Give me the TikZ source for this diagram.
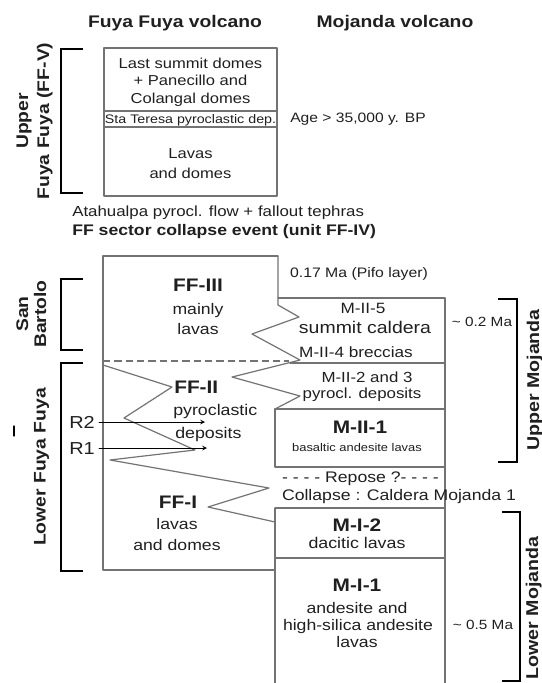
\documentclass[tikz,border=0pt]{standalone}
\usepackage{fontspec}
\setmainfont{Liberation Sans}[FakeStretch=1.15]
\definecolor{txt}{gray}{0.12}
\definecolor{boxgray}{gray}{0.45}
\tikzset{
  fs/.code={\pgfmathsetmacro\tmpth{0.72*#1}\tikzset{font=\fontsize{#1}{#1}\selectfont,text height=\tmpth pt}},
  fsb/.code={\pgfmathsetmacro\tmpth{0.72*#1}\tikzset{font=\fontsize{#1}{#1}\selectfont\bfseries,text height=\tmpth pt}},
  box/.style={draw=boxgray,line width=0.9pt},
  brack/.style={draw=black,line width=2.2pt,line cap=butt,line join=miter},
}
\begin{document}
\begin{tikzpicture}[x=0.75pt,y=-0.75pt,>=stealth,line join=round,line cap=round,
    every node/.style={inner sep=0pt,text depth=0pt,text=txt}]
  \def\xl{103} \def\xm{275} \def\xr{445}
  \useasboundingbox (0,0) rectangle (542,683);
  \node[fsb=12.6] (tFF) at (175,21) {Fuya Fuya volcano};
  \node[fsb=12.6] (tMo) at (395,21) {Mojanda volcano};
  % upper Fuya Fuya
  \draw[box] (104,48) rectangle (277,196);
  \draw[box] (104,111)--(277,111) (104,127)--(277,127);
  \node[fs=10.8] (ls1) at (190.5,63) {Last summit domes};
  \node[fs=10.8] (ls2) at (190.5,80) {+ Panecillo and};
  \node[fs=10.8] (ls3) at (190.5,98) {Colangal domes};
  \node[fs=9.3] (sta) at (190.5,119) {Sta Teresa pyroclastic dep.};
  \node[fs=10.8] (lv1) at (190.5,153) {Lavas};
  \node[fs=10.8] (lv2) at (190.5,173) {and domes};
  \node[fs=10.2] (age) at (358,118) {Age > 35,000 y. BP};
  \draw[brack] (83,49)--(61,49)--(61,193)--(83,193);
  \node[fsb=12.6,rotate=90] (up1) at (22,121) {Upper};
  \node[fsb=12.6,rotate=90] (up2) at (43,121) {Fuya Fuya (FF-V)};
  \node[fs=11,anchor=west] (ata) at (72,211) {Atahualpa pyrocl. flow + fallout tephras};
  \node[fsb=11.5,anchor=west] (col) at (72,230) {FF sector collapse event (unit FF-IV)};
  % lower Fuya Fuya
  \draw[box] (278,256)--(\xl,256)--(\xl,570)--(\xm,570);
  \draw[box] (278,256)--(278,305)--(299,317)--(252,334)--(300,360)--(232,377)--(300,396)--(\xm,409);
  \draw[box,dashed,dash pattern=on 5.5pt off 3pt,line cap=butt] (\xl,361)--(289,361);
  \draw[box] (\xl,365)--(172,387)--(124,418)--(195,450)--(110,460)--(269,488)--(208,507)--(\xm,522);
  \node[fsb=13.6] (ff3) at (198,285) {FF-III};
  \node[fs=11.5] (ff3a) at (198,309) {mainly};
  \node[fs=11.5] (ff3b) at (198,329) {lavas};
  \node[fsb=13.6,anchor=west] (ff2) at (174,387) {FF-II};
  \node[fs=11.6,anchor=west] (ff2a) at (173,410) {pyroclastic};
  \node[fs=11.6,anchor=west] (ff2b) at (175,433) {deposits};
  \node[fsb=13.6] (ff1) at (178,502) {FF-I};
  \node[fs=11.5] (ff1a) at (177,524) {lavas};
  \node[fs=11.5] (ff1b) at (177,545) {and domes};
  \node[fs=13] (R2) at (82,422) {R2};
  \node[fs=13] (R1) at (82,448) {R1};
  \coordinate (r2e) at (205,422);
  \coordinate (r1e) at (207,448);
  \draw[->,line width=0.6pt,shorten <=3pt] (R2.east)--(r2e);
  \draw[->,line width=0.6pt,shorten <=3pt] (R1.east)--(r1e);
  \draw[brack] (83,279)--(61,279)--(61,350)--(83,350);
  \node[fsb=12.6,rotate=90] (sb1) at (22,314) {San};
  \node[fsb=12.6,rotate=90] (sb2) at (40,314) {Bartolo};
  \draw[brack] (83,363)--(61,363)--(61,571)--(83,571);
  \node[fsb=12.6,rotate=90] (lff) at (39.5,467) {Lower Fuya Fuya};
  \draw[line width=0.9pt] (14,426)--(14,436);
  % Mojanda
  \node[fs=10.3] (pifo) at (359,273) {0.17 Ma (Pifo layer)};
  \draw[box] (278,298)--(\xr,298)--(\xr,683);
  \draw[box] (290,363)--(\xr,363);
  \draw[box] (\xm,409) rectangle (\xr,467);
  \node[fs=11.2] (m5) at (363,308) {M-II-5};
  \node[fs=12.7] (m5a) at (365,327) {summit caldera};
  \node[fs=11.2] (m4) at (356,352) {M-II-4 breccias};
  \node[fs=10] (a02) at (482,322) {\textasciitilde{} 0.2 Ma};
  \node[fs=11] (m23) at (367,377) {M-II-2 and 3};
  \node[fs=11] (m23a) at (362,393) {pyrocl. deposits};
  \node[fsb=13.6] (m21) at (360,427) {M-II-1};
  \node[fs=8.4] (m21a) at (357,447) {basaltic andesite lavas};
  \draw[brack] (498,299)--(517,299)--(517,462)--(498,462);
  \node[fsb=12.8,rotate=90] (umo) at (533,380) {Upper Mojanda};
  \node[fs=11.5] (rep) at (360.5,477) {- - - - Repose ?- - - -};
  \node[fs=11.5] (cmo) at (399,495) {Collapse : Caldera Mojanda 1};
  \draw[box] (\xm,508)--(\xr,508) (\xm,558)--(\xr,558) (\xm,508)--(\xm,683);
  \node[fsb=13.6] (m12) at (357,525) {M-I-2};
  \node[fs=11.6] (m12a) at (357,543) {dacitic lavas};
  \node[fsb=13.6] (m11) at (357,585) {M-I-1};
  \node[fs=11.5] (m11a) at (357,608) {andesite and};
  \node[fs=11.5] (m11b) at (358,625) {high-silica andesite};
  \node[fs=11.5] (m11c) at (357,642) {lavas};
  \node[fs=10] (a05) at (483,625) {\textasciitilde{} 0.5 Ma};
  \draw[brack] (502,512)--(520,512)--(520,681)--(502,681);
  \node[fsb=12.8,rotate=90] (lmo) at (532,608) {Lower Mojanda};
\end{tikzpicture}
\end{document}
